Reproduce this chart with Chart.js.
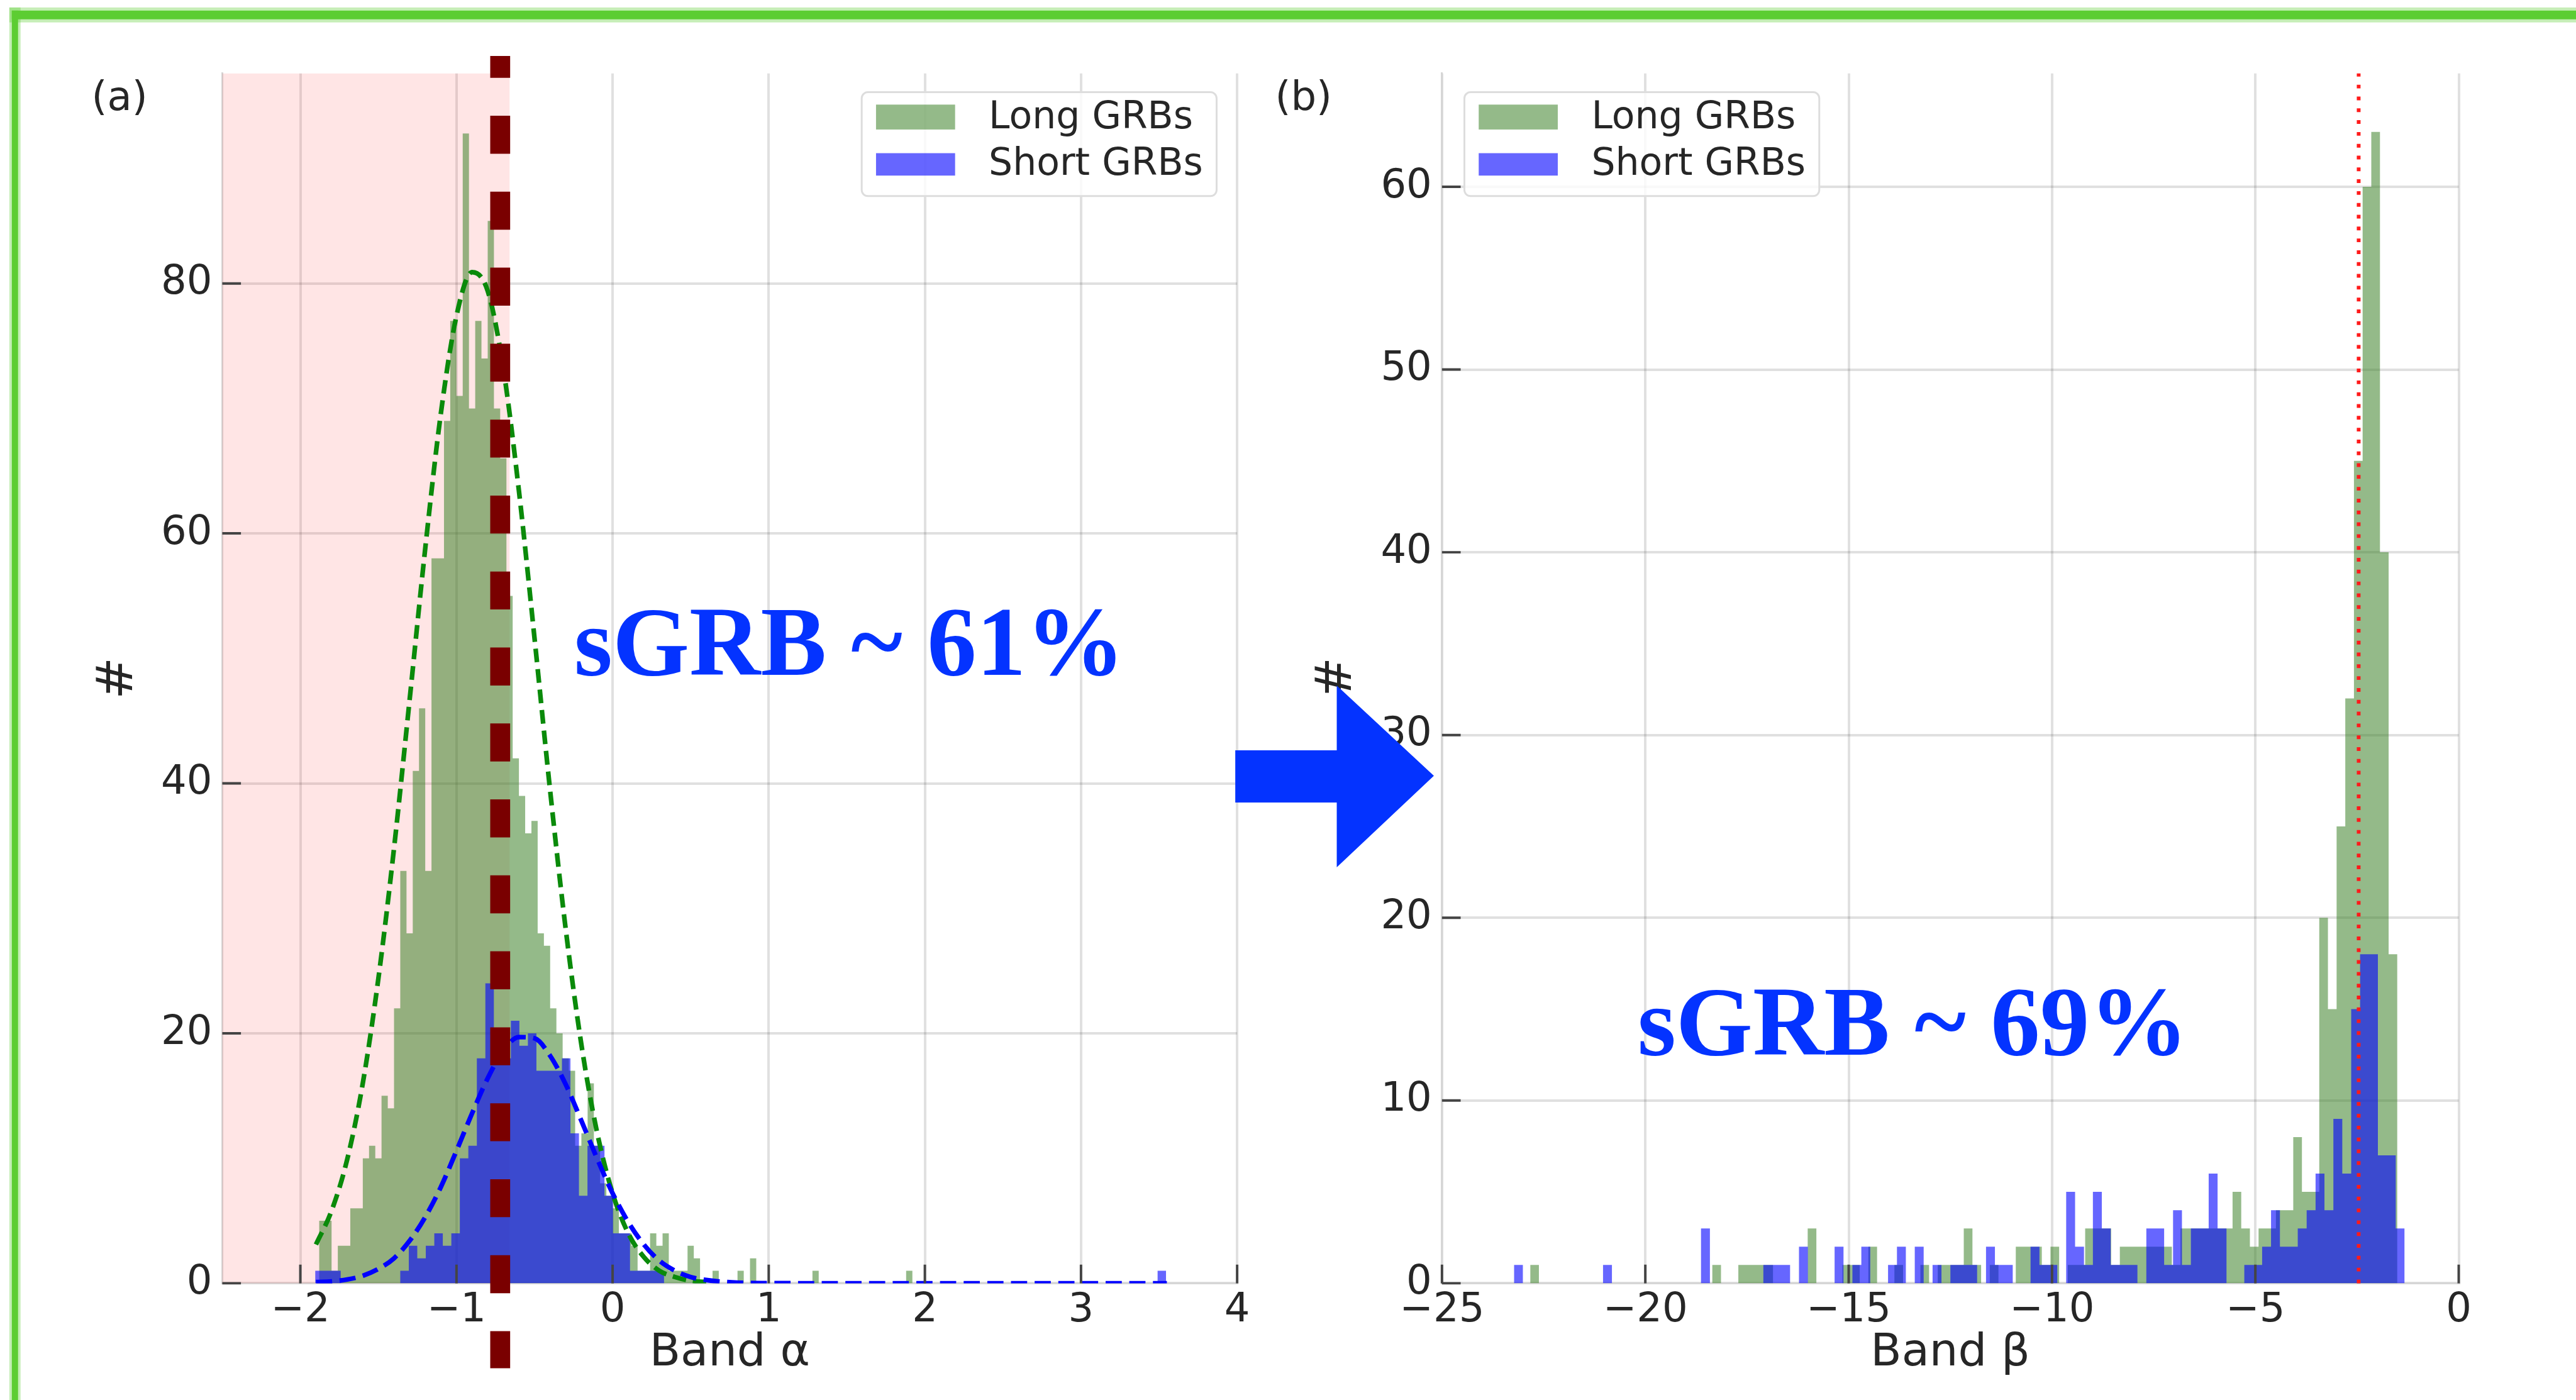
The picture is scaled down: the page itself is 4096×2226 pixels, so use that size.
<!DOCTYPE html>
<html>
<head>
<meta charset="utf-8">
<script src="https://cdn.jsdelivr.net/npm/chart.js@4.4.1/dist/chart.umd.min.js"></script>
<style>
  html, body { margin: 0; padding: 0; background: #fff; }
  #wrap { position: relative; width: 4096px; height: 2226px; overflow: hidden; background: #fff; }
  #wrap canvas { position: absolute; left: 0; top: 0; }
</style>
</head>
<body>
<div id="wrap">
  <canvas id="chartA" width="4096" height="2226"></canvas>
  <canvas id="chartB" width="4096" height="2226"></canvas>
</div>
<script>
// ---- values ----
// (a) Band alpha histograms: first bin edge, bin width, counts
const alphaLongStart = -1.88, alphaLongWidth = 0.04;
const alphaLongCounts = [
  5, 5, 1, 3, 3, 6, 6, 10, 11, 10,
  15, 14, 22, 33, 28, 41, 46, 33, 58, 58,
  69, 77, 71, 92, 70, 77, 74, 85, 70, 66,
  55, 42, 39, 36, 37, 28, 27, 22, 20, 18,
  17, 11, 12, 16, 11, 8, 7, 6, 4, 4,
  3, 1, 1, 4, 3, 4, 1, 1, 1, 3,
  2, 0, 0, 1, 0, 0, 0, 1, 0, 2,
  0, 0, 0, 0, 0, 0, 0, 0, 0, 1,
  0, 0, 0, 0, 0, 0, 0, 0, 0, 0,
  0, 0, 0, 0, 1, 0
];
const alphaShortStart = -1.905, alphaShortWidth = 0.0545;
const alphaShortCounts = [
  1, 1, 1, 0, 0, 0, 0, 0, 0, 0,
  1, 3, 2, 3, 4, 3, 4, 10, 11, 18,
  24, 20, 18, 21, 19, 20, 17, 17, 17, 18,
  12, 7, 11, 11, 7, 4, 4, 1, 1, 1,
  1, 0, 0, 0, 0, 0, 0, 0, 0, 0,
  0, 0, 0, 0, 0, 0, 0, 0, 0, 0,
  0, 0, 0, 0, 0, 0, 0, 0, 0, 0,
  0, 0, 0, 0, 0, 0, 0, 0, 0, 0,
  0, 0, 0, 0, 0, 0, 0, 0, 0, 0,
  0, 0, 0, 0, 0, 0, 0, 0, 0, 1
];
// dashed fit curves (a)
const alphaLongFitX = [-1.9, -1.8, -1.7, -1.6, -1.5, -1.4, -1.3, -1.2, -1.1, -1.0, -0.9, -0.8, -0.7,
  -0.6, -0.5, -0.4, -0.3, -0.2, -0.1, 0.0, 0.1, 0.2, 0.3, 0.4, 0.5, 0.6];
const alphaLongFitY = [3.1, 5.8, 9.9, 16.0, 24.4, 34.8, 46.7, 58.8, 69.6, 77.4, 80.9, 79.4, 73.2,
  63.4, 51.6, 39.4, 28.3, 19.1, 12.1, 7.2, 4.0, 2.1, 1.0, 0.5, 0.2, 0.1];
const alphaShortFitX = [-1.9, -1.8, -1.7, -1.6, -1.5, -1.4, -1.3, -1.2, -1.1, -1.0, -0.9, -0.8, -0.7,
  -0.6, -0.5, -0.4, -0.3, -0.2, -0.1, 0.0, 0.1, 0.2, 0.3, 0.4, 0.5, 0.6, 0.8, 1.0, 1.5, 2.0, 2.5, 3.0, 3.55];
const alphaShortFitY = [0.1, 0.15, 0.3, 0.6, 1.15, 2.0, 3.4, 5.3, 7.7, 10.6, 13.6, 16.4, 18.6,
  19.7, 19.6, 18.2, 15.9, 13.0, 10.0, 7.2, 4.9, 3.1, 1.8, 1.0, 0.5, 0.26, 0.05, 0.01, 0, 0, 0, 0, 0];
const alphaSpan = [-2.5, -0.66];     // shaded region
const alphaCut = -0.72;              // thick dashed line
const alphaCutRange = [-6.8, 98.2];  // its vertical extent in y units

// (b) Band beta histograms
const betaLongStart = -22.83, betaLongWidth = 0.2132;
const betaLongCounts = [
  1, 0, 0, 0, 0, 0, 0, 0, 0, 0,
  0, 0, 0, 0, 0, 0, 0, 0, 0, 0,
  0, 1, 0, 0, 1, 1, 1, 1, 0, 0,
  0, 0, 3, 0, 0, 0, 1, 1, 0, 2,
  0, 0, 1, 0, 0, 1, 0, 1, 1, 1,
  3, 1, 0, 1, 0, 0, 2, 2, 2, 1,
  2, 0, 1, 1, 3, 3, 3, 1, 2, 2,
  2, 2, 2, 2, 1, 3, 3, 3, 3, 3,
  3, 5, 3, 2, 3, 3, 4, 4, 8, 5,
  5, 20, 15, 25, 32, 45, 60, 63, 40, 18
];
const betaShortStart = -23.23, betaShortWidth = 0.219;
const betaShortCounts = [
  1, 0, 0, 0, 0, 0, 0, 0, 0, 0,
  1, 0, 0, 0, 0, 0, 0, 0, 0, 0,
  0, 3, 0, 0, 0, 0, 0, 0, 1, 1,
  1, 0, 2, 0, 0, 0, 2, 0, 1, 2,
  0, 0, 1, 2, 0, 2, 0, 1, 0, 1,
  1, 1, 0, 2, 1, 1, 0, 0, 2, 1,
  1, 0, 5, 2, 1, 5, 3, 1, 1, 1,
  0, 3, 3, 1, 4, 1, 3, 3, 6, 3,
  0, 0, 1, 1, 2, 4, 2, 2, 3, 4,
  6, 4, 9, 6, 15, 18, 18, 7, 7, 3
];
const betaCut = -2.46;               // dotted line

// ticks and labels
const alphaXTicks = [-2, -1, 0, 1, 2, 3, 4];
const alphaYTicks = [0, 20, 40, 60, 80];
const betaXTicks = [-25, -20, -15, -10, -5, 0];
const betaYTicks = [0, 10, 20, 30, 40, 50, 60];
const seriesLabels = ['Long GRBs', 'Short GRBs'];
const panelLabels = ['(a)', '(b)'];
const notes = ['sGRB ~ 61%', 'sGRB ~ 69%'];

// ---- layout ----
const S = 0.99;                 // reference px -> page px
const P = v => v * S;
const W = 4096, H = 2226;
const Y_W = 300, X_H = 180;     // fixed axis box sizes
const PANEL_A = {left: 357, right: 1987, top: 118, bottom: 2061};
const PANEL_B = {left: 2316, right: 3949, top: 118, bottom: 2061};

const GREEN = 'rgba(60,130,40,0.55)';
const BLUE = 'rgba(0,0,255,0.6)';
const NOTE_BLUE = '#0433ff';
const TEXT = '#262626';
const TICK_SIZE = 64;

Chart.defaults.font.family = "'DejaVu Sans', sans-serif";
Chart.defaults.color = TEXT;

const fmt = v => String(v).replace('-', '\u2212');

function histPoints(start, width, counts) {
  const pts = counts.map((c, i) => ({x: start + i * width, y: c}));
  pts.push({x: start + counts.length * width, y: 0});
  return pts;
}

function curvePoints(xs, ys) {
  return xs.map((x, i) => ({x: x, y: ys[i]}));
}

function padFor(box) {
  return {left: P(box.left) - Y_W, right: W - P(box.right), top: P(box.top), bottom: H - P(box.bottom) - X_H};
}

function xAxis(min, max, ticks, title, box) {
  return {
    type: 'linear', min: min, max: max, z: 1,
    afterBuildTicks: s => { s.ticks = ticks.map(v => ({value: v})); },
    afterFit: s => { s.height = X_H; },
    ticks: {font: {size: TICK_SIZE}, color: TEXT, padding: P(2105) - P(2061) - TICK_SIZE * 0.6,
      maxRotation: 0, autoSkip: false, callback: v => fmt(v)},
    grid: {color: 'rgba(0,0,0,0.12)', lineWidth: 4, drawTicks: false},
    border: {color: '#d6d6d6', width: 3},
    title: {display: true, text: title, font: {size: 72}, color: TEXT,
      padding: {top: 0, bottom: P(box.bottom) + X_H - 43.2 - P(2174)}}
  };
}

function yAxis(min, max, ticks, box, titleCenter) {
  return {
    type: 'linear', min: min, max: max, z: 1,
    afterBuildTicks: s => { s.ticks = ticks.map(v => ({value: v})); },
    afterFit: s => { s.width = Y_W; },
    ticks: {font: {size: TICK_SIZE}, color: TEXT, padding: 16, autoSkip: false},
    grid: {color: 'rgba(0,0,0,0.12)', lineWidth: 4, drawTicks: false},
    border: {color: '#d6d6d6', width: 3},
    title: {display: true, text: '#', font: {size: 80}, color: TEXT,
      padding: {top: P(titleCenter) - (P(box.left) - Y_W) - 48, bottom: 0}}
  };
}

function histDataset(label, pts, color, order) {
  return {label: label, data: pts, stepped: 'before', fill: 'origin', backgroundColor: color,
    borderColor: 'transparent', borderWidth: 0, pointRadius: 0, order: order};
}

function fitDataset(pts, color, dash, order) {
  return {data: pts, fill: false, borderColor: color, borderWidth: P(7.5), borderDash: dash,
    pointRadius: 0, cubicInterpolationMode: 'monotone', order: order};
}

// inward tick marks
function drawInTicks(chart) {
  const {ctx, chartArea: a, scales: {x, y}} = chart;
  ctx.save();
  ctx.strokeStyle = '#444';
  ctx.lineWidth = P(4);
  ctx.beginPath();
  x.ticks.forEach(t => {
    const px = x.getPixelForValue(t.value);
    ctx.moveTo(px, a.bottom); ctx.lineTo(px, a.bottom - P(30));
  });
  y.ticks.forEach(t => {
    const py = y.getPixelForValue(t.value);
    ctx.moveTo(a.left, py); ctx.lineTo(a.left + P(30), py);
  });
  ctx.stroke();
  ctx.restore();
}

function drawLegend(ctx, left, top) {
  ctx.save();
  ctx.beginPath();
  ctx.roundRect(left, top, P(570), P(167), P(10));
  ctx.fillStyle = 'rgba(255,255,255,0.8)';
  ctx.fill();
  ctx.lineWidth = P(3);
  ctx.strokeStyle = '#dddddd';
  ctx.stroke();
  const rows = [[GREEN, 20, 40, 42], [BLUE, 98, 36, 117]];
  ctx.font = "60px 'DejaVu Sans'";
  ctx.textBaseline = 'middle';
  rows.forEach((r, i) => {
    ctx.fillStyle = r[0];
    ctx.fillRect(left + P(23), top + P(r[1]), P(127), P(r[2]));
    ctx.fillStyle = TEXT;
    ctx.fillText(seriesLabels[i], left + P(204), top + P(r[3]));
  });
  ctx.restore();
}

function drawText(ctx, text, x, y, font, color) {
  ctx.save();
  ctx.font = font;
  ctx.fillStyle = color;
  ctx.textBaseline = 'alphabetic';
  ctx.fillText(text, x, y);
  ctx.restore();
}

const decorA = {
  id: 'decorA',
  beforeDatasetsDraw(chart) {
    const {ctx, chartArea: a, scales: {x}} = chart;
    const x0 = x.getPixelForValue(alphaSpan[0]), x1 = x.getPixelForValue(alphaSpan[1]);
    ctx.save();
    ctx.fillStyle = 'rgba(255,0,0,0.1)';
    ctx.fillRect(x0, a.top, x1 - x0, a.bottom - a.top);
    ctx.restore();
  },
  afterDraw(chart) {
    const {ctx, chartArea: a, scales: {x, y}} = chart;
    drawInTicks(chart);
    // thick dark-red dashed cut
    const px = x.getPixelForValue(alphaCut);
    ctx.save();
    ctx.strokeStyle = '#7a0000';
    ctx.lineWidth = P(32);
    ctx.setLineDash([P(61), P(61)]);
    ctx.lineDashOffset = P(26);
    ctx.beginPath();
    ctx.moveTo(px, y.getPixelForValue(alphaCutRange[1]));
    ctx.lineTo(px, y.getPixelForValue(alphaCutRange[0]));
    ctx.stroke();
    ctx.restore();
    drawLegend(ctx, a.right - P(33) - P(570), a.top + P(30));
    drawText(ctx, panelLabels[0], P(147), P(177), "64px 'DejaVu Sans'", TEXT);
    drawText(ctx, notes[0], P(922), P(1084), "bold 157px 'Liberation Serif'", NOTE_BLUE);
  }
};

const decorB = {
  id: 'decorB',
  afterDraw(chart) {
    const {ctx, chartArea: a, scales: {x, y}} = chart;
    drawInTicks(chart);
    // red dotted cut
    const px = x.getPixelForValue(betaCut);
    ctx.save();
    ctx.strokeStyle = '#ff1a1a';
    ctx.lineWidth = P(6);
    ctx.setLineDash([P(6), P(13)]);
    ctx.beginPath();
    ctx.moveTo(px, y.getPixelForValue(0));
    ctx.lineTo(px, a.top);
    ctx.stroke();
    ctx.restore();
    drawLegend(ctx, a.left + P(36), a.top + P(30));
    drawText(ctx, panelLabels[1], P(2048), P(177), "64px 'DejaVu Sans'", TEXT);
    drawText(ctx, notes[1], P(2630), P(1694), "bold 157px 'Liberation Serif'", NOTE_BLUE);
    // big arrow between panels
    ctx.save();
    ctx.fillStyle = NOTE_BLUE;
    ctx.beginPath();
    [[1984, 1205], [2147, 1205], [2147, 1101], [2303, 1246], [2147, 1393], [2147, 1289], [1984, 1289]]
      .forEach((p, i) => i ? ctx.lineTo(P(p[0]), P(p[1])) : ctx.moveTo(P(p[0]), P(p[1])));
    ctx.closePath();
    ctx.fill();
    // green slide frame (top and left)
    ctx.fillStyle = 'rgba(92,205,50,0.35)';
    ctx.fillRect(P(15), P(12), W, P(24));
    ctx.fillRect(P(15), P(12), P(18), H);
    ctx.fillStyle = '#5ccd32';
    ctx.fillRect(P(19), P(17), W, P(14));
    ctx.fillRect(P(19), P(17), P(10), H);
    ctx.restore();
  }
};

const common = {
  responsive: false,
  animation: false,
  devicePixelRatio: 1,
  plugins: {legend: {display: false}, tooltip: {enabled: false}}
};

new Chart(document.getElementById('chartA'), {
  type: 'line',
  data: {
    datasets: [
      histDataset(seriesLabels[0], histPoints(alphaLongStart, alphaLongWidth, alphaLongCounts), GREEN, 3),
      histDataset(seriesLabels[1], histPoints(alphaShortStart, alphaShortWidth, alphaShortCounts), BLUE, 2),
      fitDataset(curvePoints(alphaLongFitX, alphaLongFitY), '#0a8a0a', [P(22), P(11)], 1),
      fitDataset(curvePoints(alphaShortFitX, alphaShortFitY), '#0000ff', [P(26), P(12)], 0)
    ]
  },
  options: Object.assign({}, common, {
    layout: {padding: padFor(PANEL_A)},
    scales: {
      x: xAxis(-2.5, 4, alphaXTicks, 'Band \u03b1', PANEL_A),
      y: yAxis(0, 96.8, alphaYTicks, PANEL_A, 191)
    }
  }),
  plugins: [decorA]
});

new Chart(document.getElementById('chartB'), {
  type: 'line',
  data: {
    datasets: [
      histDataset(seriesLabels[0], histPoints(betaLongStart, betaLongWidth, betaLongCounts), GREEN, 2),
      histDataset(seriesLabels[1], histPoints(betaShortStart, betaShortWidth, betaShortCounts), BLUE, 1)
    ]
  },
  options: Object.assign({}, common, {
    layout: {padding: padFor(PANEL_B)},
    scales: {
      x: xAxis(-25, 0, betaXTicks, 'Band \u03b2', PANEL_B),
      y: yAxis(0, 66.2, betaYTicks, PANEL_B, 2149)
    }
  }),
  plugins: [decorB]
});
</script>
</body>
</html>
